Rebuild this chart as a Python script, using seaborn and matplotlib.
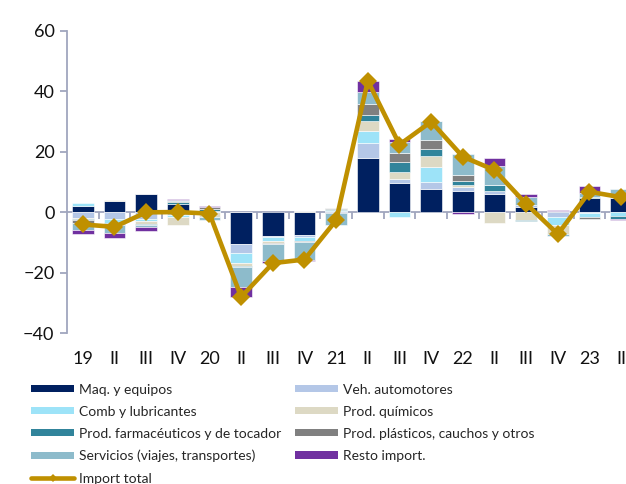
import numpy as np
import matplotlib
matplotlib.use("Agg")
import matplotlib.pyplot as plt
from matplotlib.patches import Patch
from matplotlib.lines import Line2D
import seaborn as sns

# Quarterly contributions to import growth (percentage points), 2019-2023
quarters = ["19", "II", "III", "IV", "20", "II", "III", "IV", "21", "II",
            "III", "IV", "22", "II", "III", "IV", "23", "II"]

maq = [2.2, 3.8, 6.0, 2.9, 0.0, -10.5, -7.7, -7.6, -0.2, 18.1, 9.6, 7.6, 7.2, 6.2, 1.9, 0.4, 4.6, 4.6]
veh = [-2.0, -2.3, -2.3, -1.0, 0.3, -2.9, -0.6, -0.6, 0.3, 5.0, 1.5, 2.5, 1.1, 0.9, 0.4, -1.7, -0.3, 0.7]
comb = [0.9, -1.1, -0.7, -0.6, 0.3, -3.5, -1.2, -1.3, 0.6, 3.9, -1.6, 4.8, 0.0, 0.0, 0.0, -2.5, -1.3, -1.3]
quim = [-0.3, 0.4, -0.8, -2.6, -1.6, -0.9, -0.5, 0.4, 0.0, 3.3, 2.3, 3.8, 0.7, -3.6, -2.5, -2.9, 0.0, 0.0]
farma = [-0.3, -0.3, -0.3, 0.4, 0.5, -0.4, -0.3, 0.0, 0.3, 2.0, 3.3, 2.2, 1.5, 1.9, -0.5, 0.0, 0.6, -0.8]
plast = [-0.8, -0.6, 0.2, 0.5, 0.8, 0.0, -0.2, -0.2, 0.3, 3.5, 3.0, 2.9, 2.0, 0.0, 0.0, 0.0, -0.6, 0.6]
serv = [-2.5, -2.6, -0.9, 0.3, -1.0, -6.4, -5.6, -6.0, -4.1, 4.1, 3.5, 6.5, 6.9, 6.5, 2.9, -0.8, 1.3, 1.7]
resto = [-1.2, -1.7, -1.2, 0.3, 0.3, -3.3, -0.8, -0.4, 0.0, 3.4, 1.2, 0.0, -0.5, 2.4, 1.0, 0.5, 2.1, -0.3]
total = [-4.0, -4.8, 0.0, 0.1, -0.4, -28.0, -16.8, -15.6, -2.6, 43.5, 22.4, 30.0, 18.4, 14.0, 2.8, -7.2, 6.8, 5.0]

components = [
    ("Maq. y equipos", maq, "#002060"),
    ("Veh. automotores", veh, "#B4C7E7"),
    ("Comb y lubricantes", comb, "#9DE3F8"),
    ("Prod. químicos", quim, "#DDD9C4"),
    ("Prod. farmacéuticos y de tocador", farma, "#31849B"),
    ("Prod. plásticos, cauchos y otros", plast, "#808080"),
    ("Servicios (viajes, transportes)", serv, "#8DBBCB"),
    ("Resto import.", resto, "#7030A0"),
]
line_color = "#BF9000"
axis_color = "#A0A6BE"

sns.set_theme(style="white")
plt.rcParams["font.family"] = ["Lato", "DejaVu Sans"]

fig = plt.figure(figsize=(6.26, 4.84), dpi=100)
ax = fig.add_axes([67 / 626, 0.3114, 570 / 626, 0.6246])

pos = np.arange(len(quarters))
up_base = np.zeros(len(quarters))
down_base = np.zeros(len(quarters))
for name, vals, color in components:
    v = np.asarray(vals, dtype=float)
    bottom = np.where(v >= 0, up_base, down_base)
    sns.barplot(x=pos, y=v, bottom=bottom, color=color, saturation=1,
                width=0.68, errorbar=None, edgecolor="white", linewidth=0.4,
                ax=ax, zorder=2)
    up_base += np.clip(v, 0, None)
    down_base += np.clip(v, None, 0)

sns.lineplot(x=pos, y=total, ax=ax, color=line_color, lw=3.3, marker="D",
             markersize=9, markeredgewidth=0, zorder=5)

ax.set_xlim(-0.5, len(quarters) - 0.5)
ax.set_ylim(-40, 60)
ax.set_yticks([-40, -20, 0, 20, 40, 60])
ax.set_xticks(pos)
ax.set_xticklabels(quarters)
ax.set_xlabel("")
ax.set_ylabel("")
ax.tick_params(axis="y", left=True, length=5, width=1.3, color=axis_color,
               labelsize=13, pad=4, labelcolor="#111111")
ax.tick_params(axis="x", bottom=False, length=0, labelsize=13, pad=13,
               labelcolor="#111111")
for side in ("top", "right", "bottom"):
    ax.spines[side].set_visible(False)
ax.spines["left"].set_color(axis_color)
ax.spines["left"].set_linewidth(1.3)

# zero line with category separators
zero_axis = ax.secondary_xaxis(0.4)
zero_axis.set_alignment("bottom")
zero_axis.set_xticks(np.arange(0.5, len(quarters) - 1, 1.0))
zero_axis.tick_params(axis="x", direction="out", length=5, width=1.3,
                      color=axis_color, labelbottom=False, labeltop=False)
zero_axis.spines["bottom"].set_color(axis_color)
zero_axis.spines["bottom"].set_linewidth(1.3)

handles = [Patch(facecolor=c, edgecolor="none") for _, _, c in components]
labels = [n for n, _, _ in components]
line_handle = Line2D([], [], color=line_color, lw=3.3, marker="D",
                     markersize=4, markeredgewidth=0)
order = [0, 2, 4, 6]
leg_handles = [handles[i] for i in order] + [line_handle] + [handles[i] for i in (1, 3, 5, 7)]
leg_labels = [labels[i] for i in order] + ["Import total"] + [labels[i] for i in (1, 3, 5, 7)]
fig.legend(leg_handles, leg_labels, ncol=2, loc="upper left",
           bbox_to_anchor=(31 / 626, (484 - 383.5) / 484), frameon=False,
           fontsize=10, handlelength=3.1, handleheight=0.43,
           handletextpad=0.36, labelspacing=0.73, columnspacing=0.95,
           borderpad=0, borderaxespad=0)

fig.savefig("out.png", dpi=100)
